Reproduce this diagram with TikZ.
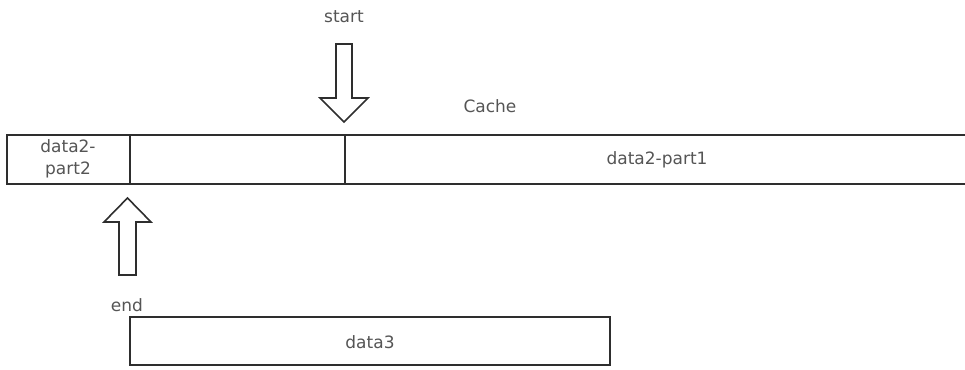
\documentclass[tikz,border=0pt]{standalone}
\usepackage{fontspec}
\setmainfont{DejaVu Sans}
\definecolor{ink}{HTML}{2E2E2E}
\definecolor{txt}{HTML}{555555}
\begin{document}
\begin{tikzpicture}[x=1pt,y=-1pt,
  lbl/.style={text=txt,font=\fontsize{17}{22}\selectfont,inner sep=0pt,align=center},
  frame/.style={draw=ink,line width=2pt,line join=miter},
  hollow/.style={draw=ink,line width=1.6pt,fill=white,line join=miter}]
\useasboundingbox (0,0) rectangle (965,369);
% cache bar: three cells, open on the right
\draw[frame] (968,135) -- (7,135) -- (7,184) -- (968,184);
\draw[frame] (130,135) -- (130,184) (345,135) -- (345,184);
\node[lbl] (p2) at (68,159) {data2-\\part2};
\node[lbl] (p1) at (657,160) {data2-part1};
\node[lbl] (cache) at (490,106) {Cache};
% start pointer
\node[lbl] (start) at (344,17) {start};
\draw[hollow] (336,44) -- (352,44) -- (352,98) -- (368,98) -- (344,122) -- (320,98) -- (336,98) -- cycle;
% end pointer
\draw[hollow] (119,275) -- (136,275) -- (136,222) -- (151,222) -- (127.5,198) -- (104,222) -- (119,222) -- cycle;
\node[lbl] (end) at (127,305) {end};
% incoming data
\draw[frame] (130,317) rectangle (610,365);
\node[lbl] (d3) at (370,342) {data3};
\end{tikzpicture}
\end{document}
